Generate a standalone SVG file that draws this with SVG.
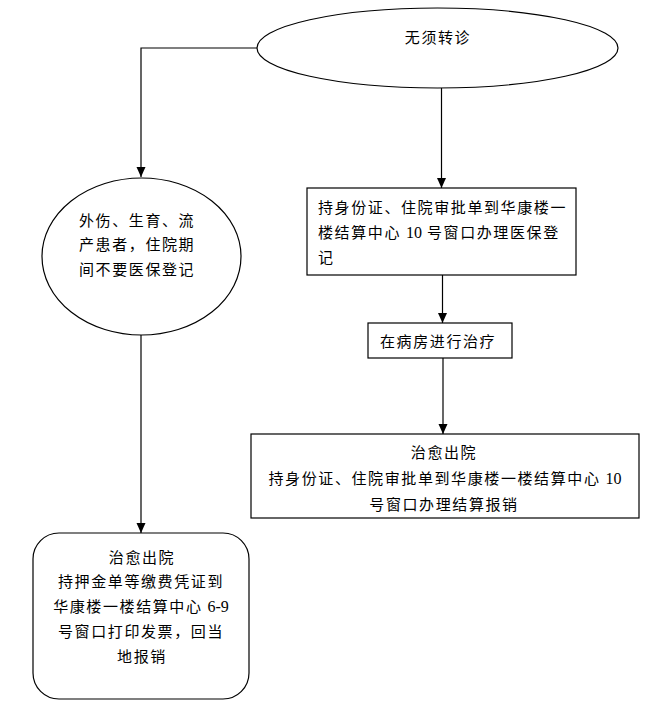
<svg xmlns="http://www.w3.org/2000/svg" width="660" height="720" viewBox="0 0 660 720">
<style>
.s{fill:#fff;stroke:#000;stroke-width:1.2}
.c{fill:none;stroke:#000;stroke-width:1.2}
text{font-family:"Noto Sans CJK SC","Noto Sans",sans-serif;font-size:15px;letter-spacing:1.6px;fill:#000}
.m{text-anchor:middle}
.n{font-family:"Liberation Serif",serif;font-size:16px;letter-spacing:0}
</style>
<defs>
<marker id="a" markerUnits="userSpaceOnUse" markerWidth="10" markerHeight="10" refX="10" refY="4.5" orient="auto">
<path d="M0,0 L10,4.5 L0,9 z" fill="#000"/>
</marker>
</defs>
<rect width="660" height="720" fill="#fff"/>
<g id="connectors">
<path class="c" d="M257,48 H141 V177" marker-end="url(#a)"/>
<path class="c" d="M441.5,88 V188" marker-end="url(#a)"/>
<path class="c" d="M442.5,275 V323" marker-end="url(#a)"/>
<path class="c" d="M443,358 V434" marker-end="url(#a)"/>
<path class="c" d="M141,335 V533" marker-end="url(#a)"/>
</g>
<g id="start">
<ellipse class="s" cx="437.5" cy="48" rx="180.5" ry="40"/>
<text class="m" x="438" y="43">无须转诊</text>
</g>
<g id="special">
<ellipse class="s" cx="141.5" cy="256.5" rx="99.5" ry="78.5"/>
<text x="79" y="226">外伤、生育、流</text>
<text x="79" y="250">产患者，住院期</text>
<text x="79" y="275">间不要医保登记</text>
</g>
<g id="register">
<rect class="s" x="307" y="188" width="269" height="87"/>
<text x="318" y="213">持身份证、住院审批单到华康楼一</text>
<text x="318" y="238">楼结算中心 <tspan class="n">10</tspan> 号窗口办理医保登</text>
<text x="318" y="263">记</text>
</g>
<g id="treat">
<rect class="s" x="368" y="323" width="144" height="35"/>
<text x="380" y="347">在病房进行治疗</text>
</g>
<g id="discharge">
<rect class="s" x="251" y="434" width="388" height="84"/>
<text class="m" x="444" y="458">治愈出院</text>
<text class="m" x="445" y="484">持身份证、住院审批单到华康楼一楼结算中心 <tspan class="n">10</tspan></text>
<text class="m" x="444" y="510">号窗口办理结算报销</text>
</g>
<g id="discharge2">
<rect class="s" x="33" y="533" width="216" height="166" rx="26" ry="26"/>
<text class="m" x="142" y="563">治愈出院</text>
<text class="m" x="141" y="587">持押金单等缴费凭证到</text>
<text class="m" x="141" y="612">华康楼一楼结算中心 <tspan class="n">6-9</tspan></text>
<text class="m" x="141" y="637">号窗口打印发票，回当</text>
<text class="m" x="142" y="662">地报销</text>
</g>
</svg>
